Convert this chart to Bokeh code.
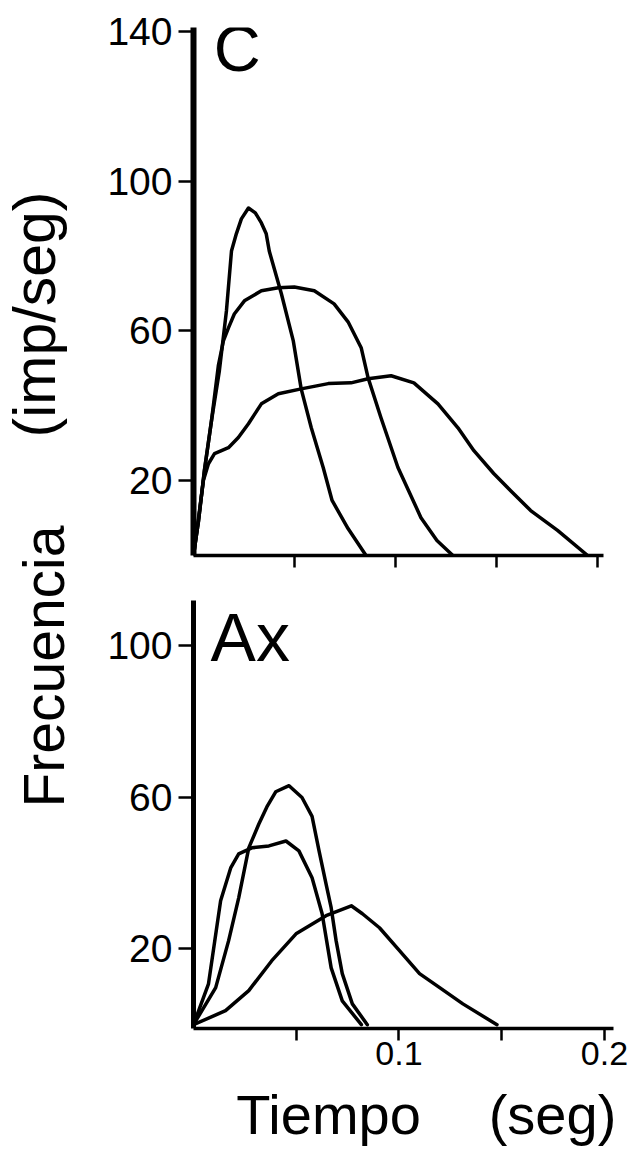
import math

from bokeh.embed import file_html
from bokeh.layouts import column, row
from bokeh.models import FixedTicker, Label
from bokeh.plotting import figure
from bokeh.resources import INLINE

FONT = "Liberation Sans"

# ---- Panel C: discharge frequency (imp/seg) vs time (seg) ----
c_t1 = [0, 0.0025, 0.0054, 0.0089, 0.0128, 0.0163, 0.0188, 0.0212, 0.0237, 0.0272,
        0.0306, 0.0336, 0.036, 0.0375, 0.0435, 0.0494, 0.0533, 0.0583, 0.0642, 0.0686,
        0.0765, 0.0854]
c_f1 = [0, 9.3, 22.7, 36, 49.3, 65.3, 81.3, 85.9, 89.9, 92.8,
        91.5, 88.8, 85.9, 81.3, 69.9, 57.3, 44.5, 34.1, 23.5, 14.7,
        7.2, 0]

c_t2 = [0, 0.0025, 0.0054, 0.0089, 0.0123, 0.0148, 0.0173, 0.0202, 0.0252, 0.0336,
        0.042, 0.0499, 0.0598, 0.0696, 0.0765, 0.083, 0.0864, 0.0928, 0.1012, 0.1126,
        0.1205, 0.1284]
c_f2 = [0, 9.3, 22.7, 36, 50.7, 57.3, 60.8, 64.5, 68, 70.7,
        71.5, 71.7, 70.7, 67.2, 62.4, 55.5, 47.5, 36.8, 23.5, 10.1,
        4, 0]

c_t3 = [0, 0.0025, 0.0049, 0.0074, 0.0104, 0.0173, 0.0222, 0.0272, 0.0336, 0.042,
        0.0533, 0.0667, 0.078, 0.0864, 0.0978, 0.1091, 0.121, 0.1309, 0.1388, 0.1486,
        0.157, 0.1669, 0.1802, 0.1951]
c_f3 = [0, 10.1, 20, 24.5, 27.2, 28.8, 31.5, 35.2, 40.5, 43.2,
        44.5, 45.9, 46.1, 47.2, 48, 46.1, 40.5, 34.1, 28, 21.9,
        17.3, 12, 6.7, 0]

# ---- Panel Ax ----
ax_t1 = [0, 0.0108, 0.0171, 0.022, 0.0269, 0.0318, 0.0357, 0.04, 0.0465, 0.0528,
         0.0577, 0.0611, 0.0645, 0.067, 0.0694, 0.0724, 0.0773, 0.0846]
ax_f1 = [0, 9.8, 22.2, 33.5, 46.7, 53, 57.5, 61.5, 63.1, 60,
         55, 45.9, 37.2, 30.9, 22.2, 13.5, 5.5, 0]

ax_t2 = [0, 0.0073, 0.0132, 0.0181, 0.022, 0.0284, 0.0367, 0.045, 0.0513, 0.0577,
         0.0626, 0.067, 0.0724, 0.0817]
ax_f2 = [0, 10.8, 32.7, 41.4, 45.1, 46.7, 47.2, 48.5, 45.9, 38.8,
         29.3, 15, 6.3, 0]

ax_t3 = [0, 0.0156, 0.0269, 0.0381, 0.0499, 0.0645, 0.0768, 0.0822, 0.0905, 0.0995,
         0.11, 0.1198, 0.1311, 0.1477]
ax_f3 = [0, 3.7, 9, 16.9, 24, 28.8, 31.4, 29.3, 25.6, 20,
         13.5, 9.8, 5.5, 0]

c_yticks = [20, 60, 100, 140]
ax_yticks = [20, 60, 100]
time_labelled = [0.1, 0.2]
time_unlabelled = [0.05, 0.15]


def blank(fig):
    fig.grid.visible = False
    fig.outline_line_color = None
    fig.background_fill_color = "white"
    fig.border_fill_color = "white"


def style_axes(fig, y_width):
    for ax in (fig.xaxis[0], fig.yaxis[0]):
        ax.axis_line_color = "black"
        ax.major_tick_line_color = "black"
        ax.minor_tick_line_color = "black"
        ax.major_tick_line_width = 2.5
        ax.minor_tick_line_width = 2.5
        ax.major_tick_in = 0
        ax.minor_tick_in = 0
        ax.major_label_text_font = FONT
        ax.major_label_text_color = "black"
    fig.yaxis[0].axis_line_width = y_width
    fig.yaxis[0].major_tick_out = 15
    fig.yaxis[0].minor_tick_out = 0
    fig.yaxis[0].major_label_text_font_size = "39px"
    fig.yaxis[0].major_label_standoff = 6
    fig.xaxis[0].axis_line_width = 3.5
    fig.xaxis[0].major_tick_out = 12
    fig.xaxis[0].minor_tick_out = 12


def curves(fig, pairs):
    for t, f in pairs:
        fig.line(t, f, line_width=3.5, line_color="black",
                 line_join="round", line_cap="round")


def text(fig, x, y, txt, size, align="left", angle=0.0):
    fig.add_layout(Label(x=x, y=y, text=txt, text_font=FONT,
                         text_font_size=f"{size}px", text_align=align,
                         text_baseline="alphabetic", angle=angle,
                         text_color="black"))


def strip(w, h, xr, yr):
    fig = figure(width=w, height=h, x_range=xr, y_range=yr,
                 output_backend="svg", toolbar_location=None,
                 x_axis_location=None, y_axis_location=None,
                 min_border_left=0, min_border_right=0,
                 min_border_top=0, min_border_bottom=0)
    blank(fig)
    return fig


# upper panel
top = figure(width=558, height=580, x_range=(0, 0.2079), y_range=(0, 141),
             output_backend="svg", toolbar_location=None,
             min_border_left=113, min_border_right=25,
             min_border_top=27, min_border_bottom=25)
blank(top)
style_axes(top, 6)
top.yaxis.ticker = FixedTicker(ticks=c_yticks)
top.xaxis.ticker = FixedTicker(ticks=[], minor_ticks=time_labelled + time_unlabelled)
top.xaxis.bounds = (0, 0.203)
curves(top, [(c_t1, c_f1), (c_t2, c_f2), (c_t3, c_f3)])
text(top, 0.0100, 135.5, "C", 65)

# lower panel
bot = figure(width=558, height=499, x_range=(0, 0.2044), y_range=(-1, 112),
             output_backend="svg", toolbar_location=None,
             min_border_left=113, min_border_right=25,
             min_border_top=20, min_border_bottom=51)
blank(bot)
style_axes(bot, 5)
bot.yaxis.ticker = FixedTicker(ticks=ax_yticks)
bot.xaxis.ticker = FixedTicker(ticks=time_labelled, minor_ticks=time_unlabelled)
bot.xaxis.major_label_text_font_size = "34px"
bot.xaxis.major_label_standoff = 1
curves(bot, [(ax_t1, ax_f1), (ax_t2, ax_f2), (ax_t3, ax_f3)])
text(bot, 0.0083, 102.4, "Ax", 68)

# time axis title strip (its frame lines up with the panels above)
xlab = strip(558, 71, (193, 613), (0, 71))
text(xlab, 328, 36, "Tiempo", 56, align="center")
text(xlab, 552, 36, "(seg)", 56, align="center")

# frequency axis title strip
ylab = strip(80, 1150, (0, 80), (0, 1150))
text(ylab, 34, 836, "(imp/seg)", 59, align="center", angle=math.pi / 2)
text(ylab, 43, 484, "Frecuencia", 57, align="center", angle=math.pi / 2)

layout = row(ylab, column(top, bot, xlab))

with open("out.html", "w") as fh:
    fh.write(file_html(layout, INLINE))
